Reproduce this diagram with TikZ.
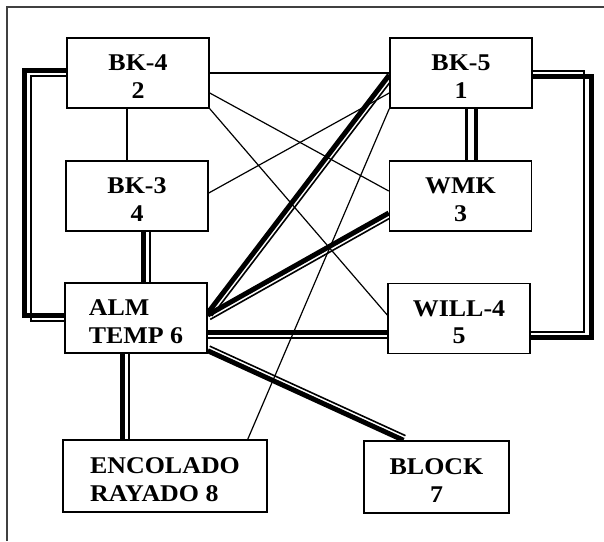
\documentclass[tikz,border=0pt]{standalone}
\usepackage{fontspec}
\setmainfont{Liberation Serif}[FakeStretch=1.08]
\usepackage{tikz}
\usetikzlibrary{positioning, calc, backgrounds}

\newcommand{\tallrow}{\rule{0pt}{23pt}}

\tikzset{
  box/.style={draw, line width=1.5pt, fill=white, minimum width=142pt, minimum height=70pt,
    inner sep=0pt, align=center, font=\fontsize{24}{27.5}\selectfont\bfseries},
  thinlink/.style={line width=1.2pt},
  heavy/.style={line width=5pt},
  light/.style={line width=1.6pt},
}

\begin{document}
\begin{tikzpicture}[x=1pt, y=-1pt]
\useasboundingbox (0,0) rectangle (604,541);

% Boxes
\node[box] (bkfour) at (138,73) {\tallrow BK-4\\2};
\node[box] (bkfive) at (461,73) {\tallrow BK-5\\1};
\node[box] (bkthree) at (137,196) {\tallrow BK-3\\4};
\node[box] (wmk) at (460.5,196) {\tallrow WMK\\3};
\node[box, align=left] (alm) at (136,318) {\tallrow ALM\\TEMP 6};
\node[box] (will) at (459,318.5) {\tallrow WILL-4\\5};
\node[box, align=left, minimum width=204pt, minimum height=72pt] (encolado) at (165,476) {\tallrow ENCOLADO\\RAYADO 8};
\node[box, minimum width=145pt, minimum height=72pt] (block) at (436.5,477) {\tallrow BLOCK\\7};

% Loop corners
\coordinate (leftlow) at (24,315);
\coordinate (leftlowin) at (31,321);
\coordinate (rightlow) at (591,337);
\coordinate (rightlowin) at (584,332);

\begin{scope}[on background layer]
% Frame
\draw[line width=1.3pt, black!75] (7,541) -- (7,7) -- (604,7);

% Thin links
\draw[thinlink] (bkfour.east) -- (bkfive.west);
\draw[thinlink] ([xshift=-11pt]bkfour.south) -- ([xshift=-10pt]bkthree.north);
\draw[thinlink] ([yshift=-20pt]bkfour.east) -- ([yshift=5pt]wmk.west);
\draw[thinlink] (bkfour.south east) -- ([yshift=3.5pt]will.west);
\draw[thinlink] ([yshift=3pt]bkthree.east) -- ([yshift=-20pt]bkfive.west);
\draw[thinlink] ([xshift=-20pt]encolado.north east) -- (bkfive.south west);

% Double links
\draw[heavy] ([yshift=5pt]alm.east) -- ([yshift=-2pt]bkfive.west);
\draw[light, transform canvas={shift={(4pt,-3pt)}}] ([yshift=5pt]alm.east) -- ([yshift=-2pt]bkfive.west);
\draw[heavy] ([yshift=3pt]alm.east) -- ([yshift=-17pt]wmk.west);
\draw[light, transform canvas={shift={(2.5pt,-4.4pt)}}] ([yshift=3pt]alm.east) -- ([yshift=-17pt]wmk.west);
\draw[heavy] ([yshift=-14.5pt]alm.east) -- ([yshift=-14pt]will.west);
\draw[light] ([yshift=-20pt]alm.east) -- ([yshift=-19.5pt]will.west);
\draw[heavy] ([yshift=3pt]alm.south east) -- ([xshift=-33pt]block.north);
\draw[light, transform canvas={shift={(2pt,4.6pt)}}] ([yshift=3pt]alm.south east) -- ([xshift=-33pt]block.north);
\draw[heavy] ([xshift=6.5pt]bkthree.south) -- ([xshift=7.5pt]alm.north);
\draw[light] ([xshift=13pt]bkthree.south) -- ([xshift=14pt]alm.north);
\draw[heavy] ([xshift=-14pt]alm.south) -- ([xshift=-43pt]encolado.north);
\draw[light] ([xshift=-7pt]alm.south) -- ([xshift=-36pt]encolado.north);
\draw[heavy, line width=4pt] ([xshift=15pt]bkfive.south) -- ([xshift=15.5pt]wmk.north);
\draw[light, line width=2.2pt] ([xshift=5.5pt]bkfive.south) -- ([xshift=6pt]wmk.north);

% Side loops
\draw[heavy] ([yshift=3pt]bkfour.west) -| (leftlow) -- ([yshift=3pt]alm.west);
\draw[light] ([yshift=-3pt]bkfour.west) -| (leftlowin) -- ([yshift=-3pt]alm.west);
\draw[heavy] ([yshift=-3pt]bkfive.east) -| (rightlow) -- ([yshift=-18.5pt]will.east);
\draw[light] ([yshift=2pt]bkfive.east) -| (rightlowin) -- ([yshift=-13.5pt]will.east);
\end{scope}
\end{tikzpicture}
\end{document}
